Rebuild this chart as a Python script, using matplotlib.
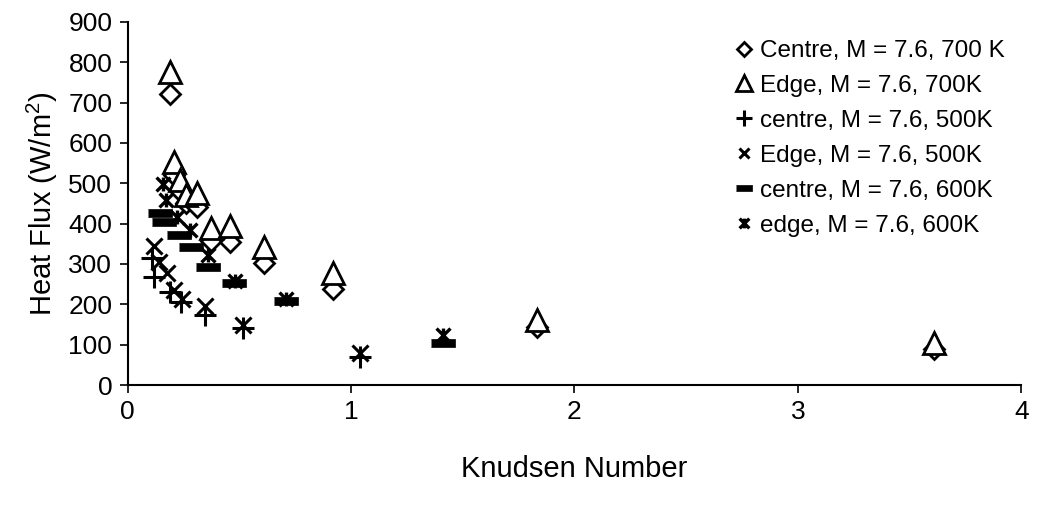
import numpy as np
import matplotlib
matplotlib.use("Agg")
import matplotlib.pyplot as plt
from matplotlib.path import Path

plt.rcParams['font.family'] = ['Liberation Sans', 'DejaVu Sans']
plt.rcParams['mathtext.fontset'] = 'custom'
plt.rcParams['mathtext.rm'] = 'Liberation Sans'

# heat flux vs Knudsen number, M = 7.6
kn_c700 = [0.19, 0.21, 0.235, 0.26, 0.31, 0.375, 0.457, 0.61, 0.92, 1.83, 3.61]
q_c700 = [720, 520, 480, 450, 440, 358, 355, 303, 237, 143, 90]

kn_e700 = [0.19, 0.21, 0.235, 0.26, 0.31, 0.375, 0.457, 0.61, 0.92, 1.83, 3.61]
q_e700 = [775, 553, 508, 470, 476, 389, 395, 342, 278, 162, 105]

kn_c500 = [0.11, 0.12, 0.19, 0.24, 0.345, 0.515, 1.04]
q_c500 = [315, 268, 231, 206, 174, 141, 70]

kn_e500 = [0.12, 0.14, 0.175, 0.21, 0.245, 0.345, 0.515, 1.04]
q_e500 = [345, 305, 278, 236, 214, 195, 148, 80]

kn_c600 = [0.145, 0.165, 0.23, 0.285, 0.36, 0.475, 0.71, 1.41]
q_c600 = [427, 404, 372, 343, 293, 252, 209, 105]

kn_e600 = [0.158, 0.17, 0.22, 0.28, 0.36, 0.48, 0.71, 1.41]
q_e600 = [498, 459, 417, 383, 322, 257, 213, 124]

labels = ["Centre, M = 7.6, 700 K", "Edge, M = 7.6, 700K", "centre, M = 7.6, 500K",
          "Edge, M = 7.6, 500K", "centre, M = 7.6, 600K", "edge, M = 7.6, 600K"]

# excel-like asterisk: an x with a vertical stroke
star = Path([(-1, -1), (1, 1), (-1, 1), (1, -1), (0, -1), (0, 1)],
            [Path.MOVETO, Path.LINETO, Path.MOVETO, Path.LINETO, Path.MOVETO, Path.LINETO])
dash = [(-1, -0.32), (1, -0.32), (1, 0.32), (-1, 0.32)]

fig = plt.figure(figsize=(10.37, 5.08), dpi=100)
ax = fig.add_axes([0.123, 0.242, 0.862, 0.715])

ax.plot(kn_c700, q_c700, ls='none', marker='D', ms=10.5, mfc='white', mec='black', mew=2, label=labels[0])
ax.plot(kn_e700, q_e700, ls='none', marker='^', ms=16, mfc='white', mec='black', mew=2, label=labels[1])
ax.plot(kn_c500, q_c500, ls='none', marker='+', ms=16, mec='black', mew=2.2, label=labels[2])
ax.plot(kn_e500, q_e500, ls='none', marker='x', ms=11, mec='black', mew=2.2, label=labels[3])
ax.plot(kn_c600, q_c600, ls='none', marker=dash, ms=17, mfc='black', mec='black', mew=0.5, label=labels[4])
ax.plot(kn_e600, q_e600, ls='none', marker=star, ms=10, mfc='none', mec='black', mew=2.4, label=labels[5])

ax.set_xlim(0, 4)
ax.set_ylim(0, 900)
ax.set_xticks([0, 1, 2, 3, 4])
ax.set_yticks(np.arange(0, 901, 100))
ax.tick_params(axis='both', labelsize=19, length=6, width=1.2, direction='out', pad=5)
ax.spines['top'].set_visible(False)
ax.spines['right'].set_visible(False)
ax.spines['left'].set_linewidth(1.5)
ax.spines['bottom'].set_linewidth(1.5)

ax.set_xlabel("Knudsen Number", fontsize=21, labelpad=22)
ax.set_ylabel("Heat Flux (W/m$^{2}$)", fontsize=21, labelpad=6)

leg = ax.legend(loc='upper right', bbox_to_anchor=(1.006, 1.01), frameon=False, fontsize=17.5,
                handlelength=0.95, handletextpad=0.2, labelspacing=0.53, markerscale=0.7)

fig.savefig("out.png", dpi=100)
